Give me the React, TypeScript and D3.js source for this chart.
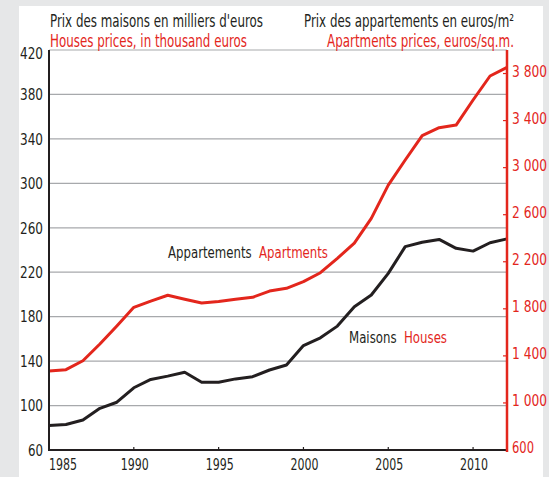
import React from "react";
import * as d3 from "d3";

const years = d3.range(1985, 2013);
const houses = [82, 83, 87, 97.5, 103, 116, 123.5, 126.5, 130, 121, 121, 124, 126, 132, 136.5, 154, 161, 171.5, 189, 199.5, 219, 243, 247, 249.5, 241.5, 239, 246.5, 250];
const apartments = [1271, 1283, 1359, 1501, 1654, 1813, 1866, 1915, 1881, 1850, 1862, 1881, 1898, 1951, 1974, 2031, 2107, 2229, 2359, 2569, 2852, 3065, 3272, 3340, 3362, 3575, 3779, 3853];
const leftTicks = [60, 100, 140, 180, 220, 260, 300, 340, 380, 420];
const rightTicks = [600, 1000, 1400, 1800, 2200, 2600, 3000, 3400, 3800];
const yearTicks = [1985, 1990, 1995, 2000, 2005, 2010];

const RED = "#e3261c";
const BLACK = "#231f20";
const FONT = "'DejaVu Sans Condensed', 'DejaVu Sans', sans-serif";

export default function App() {
  const W = 549, H = 477;
  const x0 = 49, x1 = 507, yTop = 50, yBot = 450;
  const x = d3.scaleLinear().domain([1985, 2012]).range([x0, x1]);
  const yL = d3.scaleLinear().domain([60, 420]).range([yBot, yTop]);
  const yR = d3.scaleLinear().domain([600, 4000]).range([yBot, yTop]);
  const lineH = d3.line<number>().x((_, i) => x(years[i])).y((d) => yL(d));
  const lineA = d3.line<number>().x((_, i) => x(years[i])).y((d) => yR(d));
  const fmt = (v: number) => (v >= 1000 ? `${Math.floor(v / 1000)} ${String(v % 1000).padStart(3, "0")}` : String(v));
  const tl = { lengthAdjust: "spacingAndGlyphs" as const, fontStretch: "condensed" };

  return (
    <svg width={W} height={H} style={{ position: "absolute", left: 0, top: 0, display: "block" }} fontFamily={FONT}>
      <rect x={0} y={0} width={W} height={H} fill="#e6e7e8" />
      <rect x={19} y={6} width={524} height={H - 6} fill="#ffffff" />

      {leftTicks.filter((t) => t > 60).map((t) => (
        <line key={t} x1={x0} x2={x1} y1={yL(t)} y2={yL(t)} stroke="#a7a9ac" strokeWidth={1.2} />
      ))}

      {leftTicks.map((t) => (
        <text key={t} x={43} y={yL(t) + (t === 420 ? 3 : 0)} dy="0.36em" textAnchor="end" fontSize={16} fill={BLACK} textLength={t >= 100 ? 23 : 15} {...tl}>{t}</text>
      ))}

      {yearTicks.map((t) => (
        <g key={t}>
          {t > 1985 && <line x1={x(t)} x2={x(t)} y1={yBot - 3} y2={yBot} stroke={BLACK} strokeWidth={1.2} />}
          <text x={t === 1985 ? x(t) : x(t) + 1} y={470} textAnchor={t === 1985 ? "start" : "middle"} fontSize={16} fill={BLACK} textLength={28} {...tl}>{t}</text>
        </g>
      ))}

      {rightTicks.map((t) => (
        <g key={t}>
          {t > 600 && <line x1={x1 - 4} x2={x1} y1={yR(t)} y2={yR(t)} stroke={RED} strokeWidth={1.2} />}
          <text x={512} y={yR(t) - 2} dy="0.36em" textAnchor="start" fontSize={15} fill={RED} textLength={t >= 1000 ? 35 : 22} {...tl}>{fmt(t)}</text>
        </g>
      ))}

      <path d={lineA(apartments) || ""} fill="none" stroke={RED} strokeWidth={3} strokeLinejoin="round" />
      <path d={lineH(houses) || ""} fill="none" stroke={BLACK} strokeWidth={3} strokeLinejoin="round" />

      <line x1={x0} x2={x0} y1={yTop} y2={yBot + 1} stroke={BLACK} strokeWidth={2} />
      <line x1={x0} x2={x1} y1={yBot} y2={yBot} stroke={BLACK} strokeWidth={2} />
      <line x1={x1} x2={x1} y1={yTop} y2={yBot + 2} stroke={RED} strokeWidth={2.5} />

      <text x={50} y={27} fontSize={17} fill={BLACK} textLength={213} {...tl}>Prix des maisons en milliers d'euros</text>
      <text x={50} y={47} fontSize={17} fill={RED} textLength={197} {...tl}>Houses prices, in thousand euros</text>
      <text x={514} y={27} fontSize={17} fill={BLACK} textAnchor="end" textLength={210} {...tl}>Prix des appartements en euros/m²</text>
      <text x={514} y={47} fontSize={17} fill={RED} textAnchor="end" textLength={187} {...tl}>Apartments prices, euros/sq.m.</text>

      <text x={168} y={258} fontSize={16} textLength={160} style={{ whiteSpace: "pre" }} {...tl}>
        <tspan fill={BLACK}>Appartements</tspan>
        <tspan fill={RED}>{"  Apartments"}</tspan>
      </text>
      <text x={349} y={343} fontSize={16} textLength={98} style={{ whiteSpace: "pre" }} {...tl}>
        <tspan fill={BLACK}>Maisons</tspan>
        <tspan fill={RED}>{"  Houses"}</tspan>
      </text>
    </svg>
  );
}
